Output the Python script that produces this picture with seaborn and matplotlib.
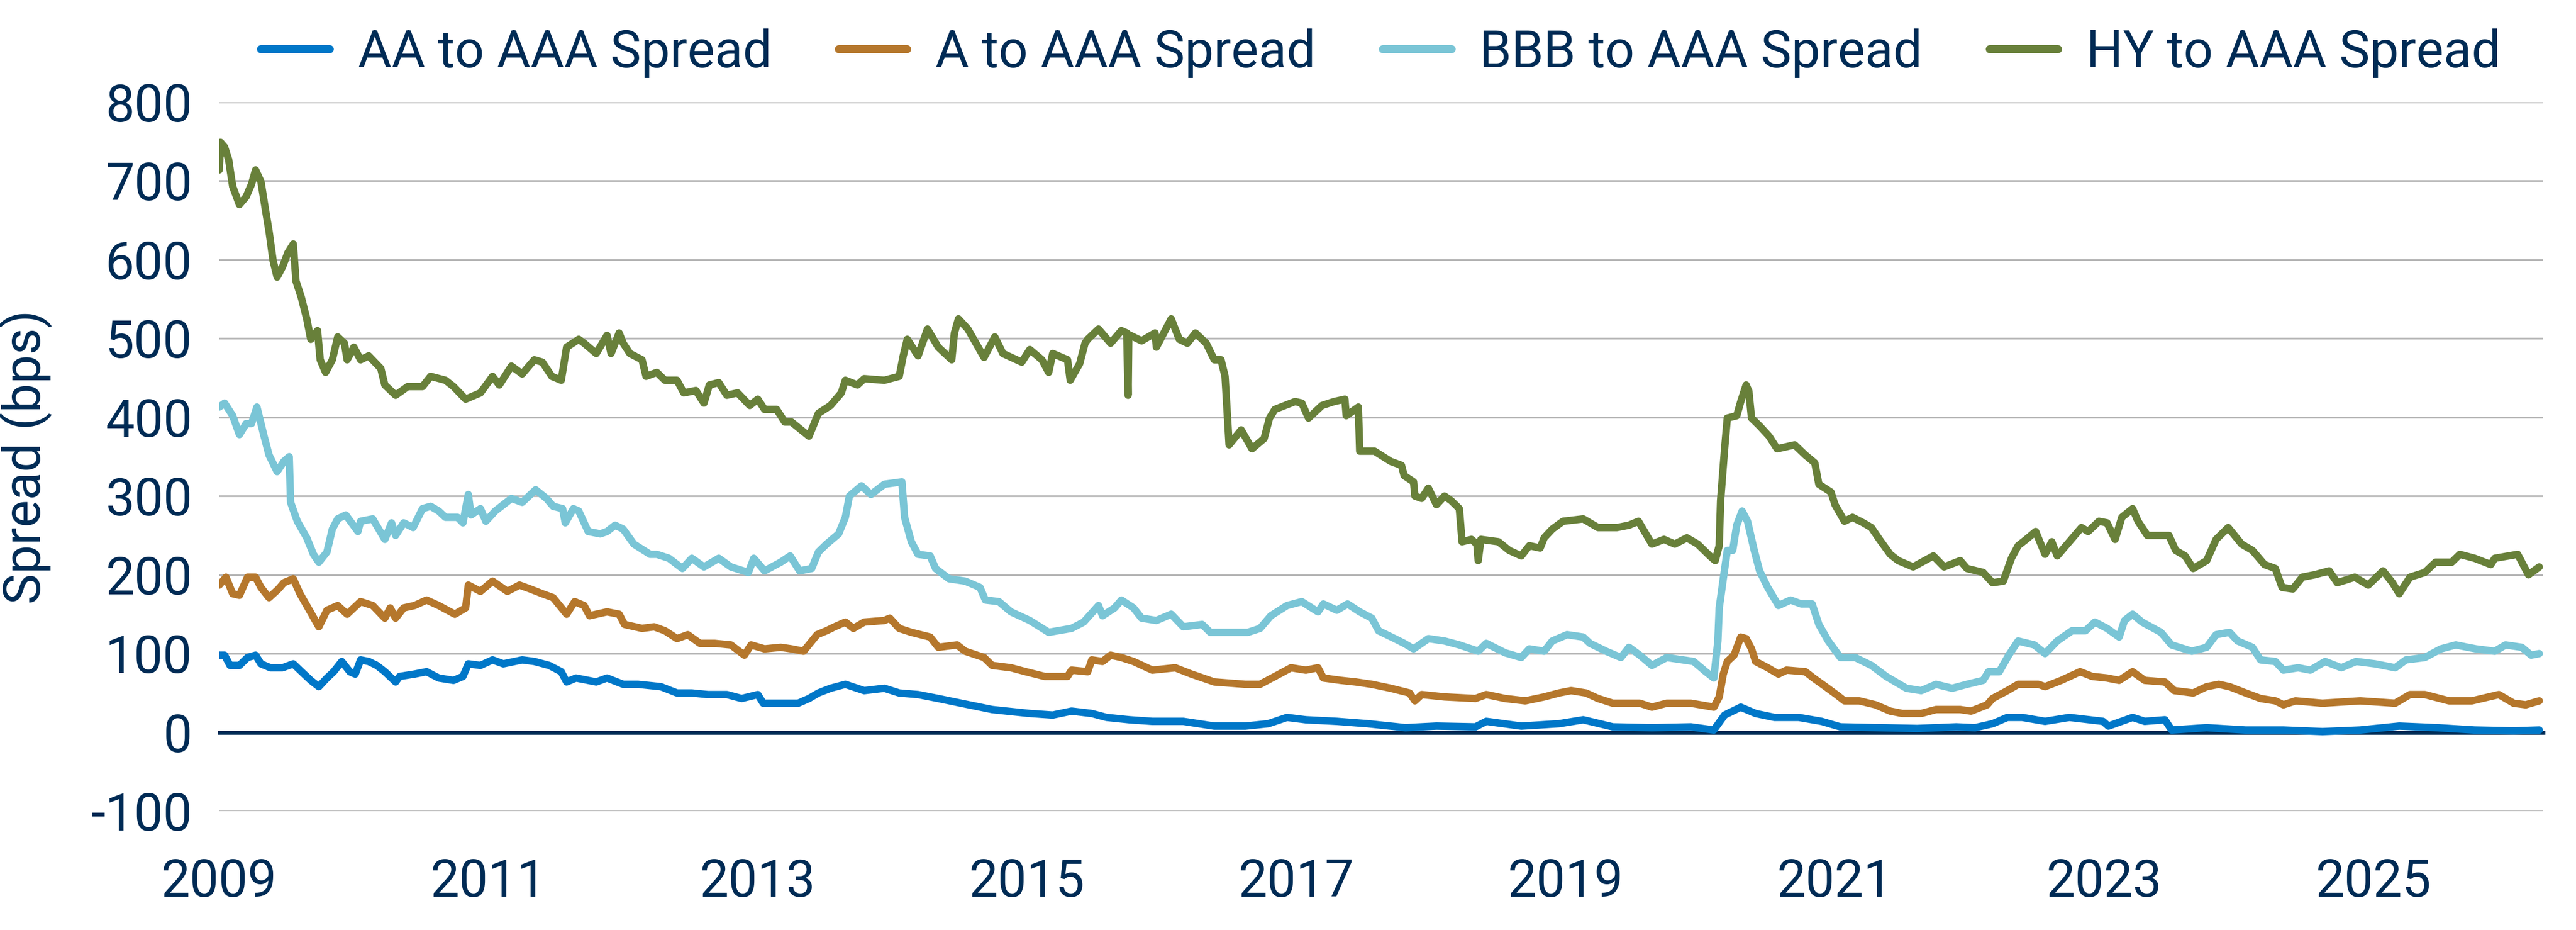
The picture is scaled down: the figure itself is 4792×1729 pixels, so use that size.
import numpy as np
import pandas as pd
import matplotlib
matplotlib.use("Agg")
import matplotlib.pyplot as plt
import seaborn as sns

# values (x = fractional year, y = spread in bps)
hy_years = [2009.00, 2009.01, 2009.04, 2009.07, 2009.10, 2009.15, 2009.20, 2009.24, 2009.27, 2009.31,
            2009.34, 2009.37, 2009.40, 2009.43, 2009.47, 2009.51, 2009.55, 2009.57, 2009.61, 2009.65,
            2009.68, 2009.73, 2009.75, 2009.79, 2009.84, 2009.88, 2009.93, 2009.95, 2010.00, 2010.05,
            2010.11, 2010.20, 2010.23, 2010.31, 2010.40, 2010.51, 2010.57, 2010.68, 2010.74, 2010.83,
            2010.94, 2011.03, 2011.08, 2011.17, 2011.25, 2011.34, 2011.40, 2011.47, 2011.54, 2011.58,
            2011.67, 2011.71, 2011.80, 2011.88, 2011.91, 2011.97, 2012.00, 2012.05, 2012.14, 2012.17,
            2012.25, 2012.31, 2012.40, 2012.45, 2012.54, 2012.60, 2012.64, 2012.71, 2012.77, 2012.85,
            2012.94, 2013.00, 2013.05, 2013.14, 2013.20, 2013.25, 2013.38, 2013.45, 2013.54, 2013.62,
            2013.65, 2013.74, 2013.79, 2013.94, 2014.05, 2014.08, 2014.11, 2014.19, 2014.26, 2014.34,
            2014.44, 2014.46, 2014.49, 2014.56, 2014.62, 2014.68, 2014.76, 2014.82, 2014.96, 2015.02,
            2015.11, 2015.16, 2015.19, 2015.30, 2015.32, 2015.39, 2015.43, 2015.45, 2015.53, 2015.62,
            2015.70, 2015.74, 2015.75, 2015.755, 2015.85, 2015.95, 2015.96, 2016.07, 2016.13, 2016.19,
            2016.25, 2016.33, 2016.39, 2016.44, 2016.47, 2016.49, 2016.50, 2016.59, 2016.67, 2016.76,
            2016.80, 2016.84, 2016.99, 2017.04, 2017.09, 2017.19, 2017.28, 2017.36, 2017.37, 2017.46,
            2017.47, 2017.58, 2017.70, 2017.78, 2017.80, 2017.87, 2017.88, 2017.93, 2017.98, 2018.04,
            2018.10, 2018.15, 2018.21, 2018.23, 2018.30, 2018.34, 2018.35, 2018.37, 2018.50, 2018.58,
            2018.67, 2018.73, 2018.81, 2018.84, 2018.90, 2018.98, 2019.13, 2019.24, 2019.38, 2019.47,
            2019.54, 2019.64, 2019.73, 2019.81, 2019.90, 2019.98, 2020.07, 2020.11, 2020.14, 2020.15,
            2020.18, 2020.20, 2020.27, 2020.30, 2020.34, 2020.36, 2020.38, 2020.44, 2020.51, 2020.57,
            2020.70, 2020.78, 2020.85, 2020.88, 2020.97, 2021.00, 2021.07, 2021.13, 2021.21, 2021.27,
            2021.33, 2021.41, 2021.47, 2021.58, 2021.73, 2021.81, 2021.93, 2021.98, 2022.10, 2022.17,
            2022.25, 2022.31, 2022.36, 2022.42, 2022.49, 2022.56, 2022.61, 2022.65, 2022.74, 2022.83,
            2022.88, 2022.96, 2023.02, 2023.08, 2023.13, 2023.21, 2023.25, 2023.32, 2023.48, 2023.53,
            2023.60, 2023.66, 2023.76, 2023.83, 2023.92, 2024.02, 2024.10, 2024.19, 2024.27, 2024.32,
            2024.40, 2024.47, 2024.56, 2024.67, 2024.73, 2024.86, 2024.96, 2025.07, 2025.14, 2025.19,
            2025.27, 2025.38, 2025.46, 2025.58, 2025.64, 2025.75, 2025.87, 2025.90, 2026.07, 2026.15,
            2026.23]
hy_spread = [714, 749, 743, 727, 693, 670, 680, 696, 714, 699,
             667, 636, 599, 578, 591, 609, 620, 573, 552, 525,
             499, 510, 473, 457, 473, 502, 494, 473, 489, 473,
             478, 462, 441, 428, 439, 439, 452, 447, 439, 423,
             431, 452, 441, 465, 455, 473, 470, 452, 447, 489,
             499, 494, 481, 504, 481, 507, 494, 481, 473, 452,
             457, 447, 447, 431, 434, 418, 441, 444, 428, 431,
             415, 423, 410, 410, 394, 394, 376, 405, 415, 431,
             447, 441, 449, 447, 452, 478, 499, 478, 512, 489,
             473, 507, 525, 512, 494, 476, 502, 481, 470, 486,
             473, 457, 481, 473, 447, 468, 494, 499, 512, 494,
             510, 507, 428, 505, 497, 507, 489, 525, 499, 494,
             507, 494, 473, 473, 452, 394, 365, 384, 360, 373,
             399, 410, 420, 418, 399, 415, 420, 423, 402, 413,
             357, 357, 344, 339, 326, 318, 300, 297, 310, 289,
             300, 294, 284, 242, 245, 239, 218, 245, 242, 231,
             224, 237, 234, 247, 258, 268, 271, 260, 260, 263,
             268, 239, 245, 239, 247, 239, 224, 218, 237, 294,
             360, 399, 402, 420, 441, 433, 399, 389, 376, 360,
             365, 352, 342, 315, 305, 289, 268, 273, 266, 260,
             245, 226, 218, 210, 224, 210, 218, 208, 203, 190,
             192, 221, 237, 245, 255, 226, 242, 224, 242, 260,
             255, 268, 266, 245, 273, 284, 268, 250, 250, 231,
             224, 208, 218, 245, 260, 239, 231, 213, 208, 184,
             182, 197, 200, 205, 190, 197, 187, 205, 190, 176,
             197, 203, 216, 216, 226, 221, 213, 221, 226, 200,
             210]

bbb_years = [2009.00, 2009.04, 2009.10, 2009.15, 2009.20, 2009.24, 2009.28, 2009.33, 2009.37, 2009.43,
             2009.48, 2009.52, 2009.53, 2009.58, 2009.65, 2009.70, 2009.74, 2009.80, 2009.84, 2009.88,
             2009.94, 2010.03, 2010.05, 2010.14, 2010.23, 2010.28, 2010.31, 2010.37, 2010.44, 2010.51,
             2010.57, 2010.63, 2010.68, 2010.77, 2010.81, 2010.85, 2010.87, 2010.94, 2010.98, 2011.05,
             2011.17, 2011.25, 2011.35, 2011.43, 2011.48, 2011.55, 2011.57, 2011.63, 2011.67, 2011.74,
             2011.83, 2011.88, 2011.94, 2012.00, 2012.08, 2012.20, 2012.25, 2012.34, 2012.44, 2012.51,
             2012.60, 2012.71, 2012.80, 2012.93, 2012.97, 2013.05, 2013.17, 2013.24, 2013.31, 2013.40,
             2013.45, 2013.51, 2013.60, 2013.65, 2013.68, 2013.77, 2013.84, 2013.94, 2014.07, 2014.09,
             2014.14, 2014.19, 2014.28, 2014.32, 2014.42, 2014.54, 2014.65, 2014.69, 2014.79, 2014.88,
             2015.02, 2015.16, 2015.33, 2015.42, 2015.53, 2015.56, 2015.65, 2015.70, 2015.79, 2015.85,
             2015.96, 2016.07, 2016.16, 2016.30, 2016.36, 2016.50, 2016.64, 2016.73, 2016.81, 2016.93,
             2017.04, 2017.16, 2017.20, 2017.30, 2017.38, 2017.47, 2017.56, 2017.61, 2017.73, 2017.80,
             2017.87, 2017.98, 2018.10, 2018.21, 2018.35, 2018.41, 2018.55, 2018.67, 2018.73, 2018.84,
             2018.90, 2019.01, 2019.13, 2019.18, 2019.30, 2019.41, 2019.47, 2019.55, 2019.64, 2019.75,
             2019.87, 2019.95, 2020.04, 2020.10, 2020.13, 2020.14, 2020.17, 2020.20, 2020.24, 2020.27,
             2020.31, 2020.35, 2020.40, 2020.44, 2020.50, 2020.58, 2020.67, 2020.75, 2020.83, 2020.88,
             2020.95, 2021.04, 2021.15, 2021.27, 2021.38, 2021.53, 2021.64, 2021.75, 2021.87, 2021.98,
             2022.10, 2022.14, 2022.22, 2022.29, 2022.36, 2022.48, 2022.56, 2022.65, 2022.76, 2022.86,
             2022.93, 2023.02, 2023.11, 2023.15, 2023.21, 2023.28, 2023.42, 2023.50, 2023.65, 2023.76,
             2023.83, 2023.93, 2023.99, 2024.10, 2024.16, 2024.27, 2024.33, 2024.44, 2024.53, 2024.64,
             2024.76, 2024.87, 2025.01, 2025.16, 2025.24, 2025.38, 2025.50, 2025.61, 2025.76, 2025.90,
             2025.98, 2026.10, 2026.17, 2026.23]
bbb_spread = [413, 418, 402, 378, 392, 392, 413, 378, 352, 331,
              344, 350, 292, 268, 247, 226, 216, 229, 258, 271,
              276, 255, 268, 271, 245, 266, 250, 266, 260, 284,
              287, 281, 273, 273, 266, 302, 276, 284, 268, 281,
              297, 292, 308, 297, 287, 284, 266, 284, 281, 255,
              252, 255, 263, 258, 239, 226, 226, 221, 208, 221,
              210, 221, 210, 203, 221, 205, 216, 224, 205, 208,
              229, 239, 252, 273, 300, 313, 302, 315, 318, 273,
              242, 226, 224, 208, 195, 192, 184, 168, 166, 153,
              142, 127, 132, 140, 161, 148, 158, 168, 158, 145,
              142, 150, 134, 137, 127, 127, 127, 132, 148, 161,
              166, 153, 163, 155, 163, 153, 145, 129, 119, 113,
              106, 119, 116, 111, 103, 113, 101, 95, 106, 103,
              116, 124, 121, 113, 103, 95, 108, 98, 85, 95,
              92, 90, 77, 69, 116, 158, 195, 231, 231, 263,
              281, 268, 231, 205, 184, 161, 168, 163, 163, 137,
              116, 95, 95, 85, 71, 56, 53, 61, 56, 61,
              66, 77, 77, 98, 116, 111, 100, 116, 129, 129,
              140, 132, 121, 142, 150, 140, 127, 111, 103, 108,
              124, 127, 116, 108, 92, 90, 79, 82, 79, 90,
              82, 90, 87, 82, 92, 95, 106, 111, 106, 103,
              111, 108, 98, 100]

a_years = [2009.00, 2009.05, 2009.10, 2009.15, 2009.21, 2009.27, 2009.31, 2009.37, 2009.44, 2009.48,
           2009.55, 2009.60, 2009.67, 2009.74, 2009.80, 2009.88, 2009.95, 2010.05, 2010.14, 2010.23,
           2010.27, 2010.31, 2010.37, 2010.45, 2010.54, 2010.63, 2010.75, 2010.83, 2010.85, 2010.94,
           2011.03, 2011.14, 2011.23, 2011.31, 2011.40, 2011.48, 2011.58, 2011.64, 2011.71, 2011.75,
           2011.88, 2011.97, 2012.01, 2012.14, 2012.23, 2012.31, 2012.40, 2012.48, 2012.57, 2012.68,
           2012.80, 2012.90, 2012.95, 2013.05, 2013.17, 2013.25, 2013.34, 2013.44, 2013.51, 2013.57,
           2013.65, 2013.71, 2013.79, 2013.94, 2013.98, 2014.05, 2014.14, 2014.28, 2014.34, 2014.48,
           2014.54, 2014.68, 2014.74, 2014.88, 2014.99, 2015.13, 2015.30, 2015.33, 2015.45, 2015.48,
           2015.56, 2015.62, 2015.70, 2015.79, 2015.93, 2016.10, 2016.22, 2016.39, 2016.62, 2016.73,
           2016.84, 2016.96, 2017.07, 2017.16, 2017.20, 2017.33, 2017.44, 2017.56, 2017.70, 2017.84,
           2017.88, 2017.93, 2018.10, 2018.33, 2018.41, 2018.55, 2018.70, 2018.84, 2018.95, 2019.04,
           2019.15, 2019.24, 2019.35, 2019.55, 2019.64, 2019.75, 2019.93, 2020.10, 2020.14, 2020.17,
           2020.20, 2020.25, 2020.30, 2020.34, 2020.38, 2020.41, 2020.50, 2020.58, 2020.64, 2020.78,
           2020.84, 2020.93, 2021.01, 2021.07, 2021.18, 2021.30, 2021.41, 2021.50, 2021.64, 2021.75,
           2021.93, 2022.01, 2022.13, 2022.17, 2022.28, 2022.36, 2022.51, 2022.56, 2022.68, 2022.82,
           2022.91, 2023.02, 2023.11, 2023.21, 2023.30, 2023.45, 2023.52, 2023.66, 2023.76, 2023.85,
           2023.93, 2024.05, 2024.16, 2024.27, 2024.33, 2024.42, 2024.62, 2024.90, 2025.16, 2025.27,
           2025.38, 2025.56, 2025.73, 2025.93, 2026.04, 2026.13, 2026.23]
a_spread = [187, 197, 176, 174, 197, 197, 184, 171, 182, 190,
            195, 176, 155, 134, 155, 161, 150, 166, 161, 145,
            158, 145, 158, 161, 168, 161, 150, 158, 187, 179,
            192, 179, 187, 182, 176, 171, 150, 166, 161, 148,
            153, 150, 137, 132, 134, 129, 119, 124, 113, 113,
            111, 98, 111, 106, 108, 106, 103, 124, 129, 134,
            140, 132, 140, 142, 145, 132, 127, 121, 108, 111,
            103, 95, 85, 82, 77, 71, 71, 79, 77, 92,
            90, 98, 95, 90, 79, 82, 74, 64, 61, 61,
            71, 82, 79, 82, 69, 66, 64, 61, 56, 50,
            40, 48, 45, 43, 48, 43, 40, 45, 50, 53,
            50, 43, 37, 37, 32, 37, 37, 32, 45, 74,
            90, 98, 121, 119, 106, 90, 82, 74, 79, 77,
            69, 58, 48, 40, 40, 35, 27, 24, 24, 29,
            29, 27, 35, 43, 53, 61, 61, 58, 66, 77,
            71, 69, 66, 77, 66, 64, 53, 50, 58, 61,
            58, 50, 43, 40, 35, 40, 37, 40, 37, 48,
            48, 40, 40, 48, 37, 35, 40]

aa_years = [2009.00, 2009.04, 2009.08, 2009.15, 2009.21, 2009.27, 2009.31, 2009.38, 2009.47, 2009.55,
            2009.63, 2009.68, 2009.74, 2009.80, 2009.85, 2009.91, 2009.97, 2010.01, 2010.05, 2010.11,
            2010.17, 2010.23, 2010.31, 2010.34, 2010.45, 2010.54, 2010.63, 2010.74, 2010.81, 2010.85,
            2010.94, 2011.03, 2011.11, 2011.25, 2011.34, 2011.45, 2011.54, 2011.58, 2011.65, 2011.80,
            2011.88, 2012.00, 2012.11, 2012.28, 2012.40, 2012.51, 2012.63, 2012.77, 2012.88, 2013.00,
            2013.04, 2013.20, 2013.30, 2013.38, 2013.45, 2013.54, 2013.65, 2013.79, 2013.94, 2014.05,
            2014.19, 2014.34, 2014.51, 2014.74, 2014.85, 2015.02, 2015.19, 2015.33, 2015.48, 2015.59,
            2015.76, 2015.93, 2016.16, 2016.39, 2016.62, 2016.79, 2016.93, 2017.07, 2017.30, 2017.53,
            2017.81, 2018.04, 2018.33, 2018.41, 2018.67, 2018.95, 2019.13, 2019.35, 2019.64, 2019.93,
            2020.10, 2020.18, 2020.30, 2020.41, 2020.55, 2020.73, 2020.90, 2021.04, 2021.33, 2021.61,
            2021.90, 2022.04, 2022.17, 2022.28, 2022.39, 2022.56, 2022.74, 2022.99, 2023.03, 2023.21,
            2023.30, 2023.45, 2023.50, 2023.76, 2024.05, 2024.33, 2024.62, 2024.90, 2025.19, 2025.47,
            2025.75, 2026.04, 2026.23]
aa_spread = [98, 98, 85, 85, 95, 98, 87, 82, 82, 87,
             74, 66, 58, 69, 77, 90, 77, 74, 92, 90,
             85, 77, 64, 71, 74, 77, 69, 66, 71, 87,
             85, 92, 87, 92, 90, 85, 77, 64, 69, 64,
             69, 61, 61, 58, 50, 50, 48, 48, 43, 48,
             37, 37, 37, 43, 50, 56, 61, 53, 56, 50,
             48, 43, 37, 29, 27, 24, 22, 27, 24, 19,
             16, 14, 14, 8, 8, 11, 19, 16, 14, 11,
             6, 8, 7, 14, 8, 11, 16, 7, 6, 7,
             3, 22, 32, 24, 19, 19, 14, 7, 6, 5,
             7, 6, 11, 19, 19, 14, 19, 14, 8, 19,
             14, 16, 3, 6, 3, 3, 1, 3, 8, 6,
             3, 2, 3]

series_names = ["AA to AAA Spread", "A to AAA Spread", "BBB to AAA Spread", "HY to AAA Spread"]
series_colors = ["#0077C8", "#B5772C", "#7AC5D6", "#68803A"]
year_ticks = [2009, 2011, 2013, 2015, 2017, 2019, 2021, 2023, 2025]
spread_ticks = [-100, 0, 100, 200, 300, 400, 500, 600, 700, 800]

navy = "#002B55"

frames = []
for name, xs, ys in zip(series_names,
                        [aa_years, a_years, bbb_years, hy_years],
                        [aa_spread, a_spread, bbb_spread, hy_spread]):
    frames.append(pd.DataFrame({"year": xs, "spread": ys, "series": name}))
df = pd.concat(frames, ignore_index=True)

sns.set_theme(style="white")
plt.rcParams["font.family"] = ["Roboto", "DejaVu Sans"]
plt.rcParams["axes.unicode_minus"] = False

fig = plt.figure(figsize=(4792 / 300, 1729 / 300), dpi=300)
ax = fig.add_axes([0.0851, 0.1278, 0.9022, 0.7623])

sns.lineplot(data=df, x="year", y="spread", hue="series", hue_order=series_names,
             palette=series_colors, estimator=None, sort=False, linewidth=3.3, ax=ax)
for line in ax.get_lines():
    line.set_solid_capstyle("round")
    line.set_solid_joinstyle("round")

ax.set_xlim(2009, 2026.26)
ax.set_ylim(-100, 800)
ax.set_xticks(year_ticks)
ax.set_xticklabels([str(y) for y in year_ticks])
ax.set_yticks(spread_ticks)

# gridlines and axis at zero
ax.yaxis.grid(True, color="#B5B5B5", linewidth=0.8)
ax.xaxis.grid(False)
ax.set_axisbelow(True)
for side in ["top", "right", "left"]:
    ax.spines[side].set_visible(False)
ax.spines["bottom"].set_position(("data", 0))
ax.spines["bottom"].set_color(navy)
ax.spines["bottom"].set_linewidth(1.7)
ax.spines["bottom"].set_zorder(1.5)

ax.tick_params(axis="x", direction="out", length=7, width=1.9, color=navy,
               labelcolor=navy, labelsize=23, pad=49)
ax.tick_params(axis="y", length=0, labelcolor=navy, labelsize=23, pad=12)

ax.set_xlabel("")
ax.set_ylabel("Spread (bps)", fontsize=23, color=navy)
ax.yaxis.set_label_coords(-0.072, 0.5)

handles, labels = ax.get_legend_handles_labels()
leg = ax.legend(handles, labels, loc="center", bbox_to_anchor=(0.536, 0.943),
                bbox_transform=fig.transFigure, ncol=4, frameon=False,
                fontsize=23, handlelength=1.33, handletextpad=0.55,
                columnspacing=1.3, borderaxespad=0)
for h in leg.legend_handles:
    h.set_linewidth(3.6)
    h.set_solid_capstyle("round")
for t in leg.get_texts():
    t.set_color(navy)

fig.savefig("out.png", dpi=300)
